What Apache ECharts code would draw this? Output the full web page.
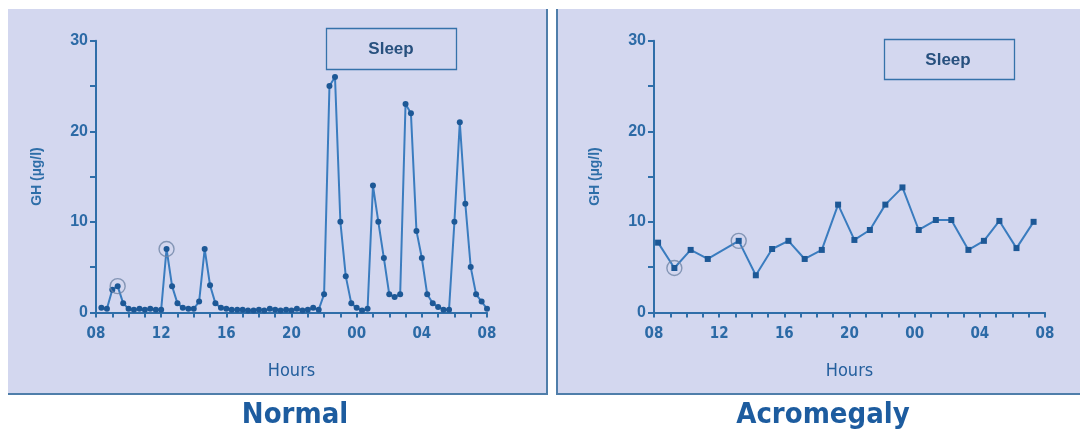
<!DOCTYPE html>
<html>
<head>
<meta charset="utf-8">
<script src="https://cdn.jsdelivr.net/npm/echarts@6/dist/echarts.min.js"></script>
<style>
html,body{margin:0;padding:0;background:#ffffff;}
#c{width:1086px;height:432px;}
</style>
</head>
<body>
<div id="c"></div>
<script>
// ---- data ----
const hourTickLabels = ['08', '12', '16', '20', '00', '04', '08'];
const yTickLabels = ['0', '10', '20', '30'];
const panelTitles = ['Normal', 'Acromegaly'];
const sleepLabel = 'Sleep';
const xName = 'Hours';
const yName = 'GH (µg/l)';

// Normal: hours after 08:00 (20-min sampling) and GH values
const normalHours = [0.33,0.67,1,1.33,1.67,2,2.33,2.67,3,3.33,3.67,4,4.33,4.67,5,5.33,5.67,6,
  6.33,6.67,7,7.33,7.67,8,8.33,8.67,9,9.33,9.67,10,10.33,10.67,11,11.33,11.67,12,
  12.33,12.67,13,13.33,13.67,14,14.33,14.67,15,15.33,15.67,16,16.33,16.67,17,17.33,17.67,18,
  18.33,18.67,19,19.33,19.67,20,20.33,20.67,21,21.33,21.67,22,22.33,22.67,23,23.33,23.67,24];
const normalGH = [0.5,0.4,2.5,2.9,1.0,0.4,0.3,0.4,0.3,0.4,0.3,0.3,7.0,2.9,1.0,0.5,0.4,0.4,
  1.2,7.0,3.0,1.0,0.5,0.4,0.3,0.3,0.3,0.2,0.2,0.3,0.2,0.4,0.3,0.2,0.3,0.2,
  0.4,0.2,0.3,0.5,0.3,2.0,25,26,10,4,1.0,0.5,0.2,0.4,14,10,6,2,
  1.7,2,23,22,9,6,2,1.0,0.6,0.3,0.3,10,21,12,5,2,1.2,0.4];
const normalCircledHours = [1.33, 4.33];
const normalCircledGH = [2.9, 7.0];

// Acromegaly
const acroHours = [0.25,1.25,2.25,3.3,5.2,6.25,7.25,8.25,9.25,10.3,11.3,12.3,13.25,14.2,15.25,16.25,17.3,18.25,19.3,20.25,21.2,22.25,23.3];
const acroGH = [7.7,4.9,6.9,5.9,7.9,4.1,7.0,7.9,5.9,6.9,11.9,8.0,9.1,11.9,13.8,9.1,10.2,10.2,6.9,7.9,10.1,7.1,10.0];
const acroCircledHours = [1.25, 5.2];
const acroCircledGH = [4.9, 7.9];

// ---- styling ----
const axisColor = '#2f6ea9';
const labelColor = '#2c6aa6';
const lineColor = '#3a7cbf';
const markColor = '#1d5896';
const narrow = "'Liberation Sans Narrow', 'DejaVu Sans Condensed', 'Liberation Sans', Arial, sans-serif";
const sans = "'Liberation Sans', Arial, sans-serif";

function pairs(xs, ys) { return xs.map((x, i) => [x, ys[i]]); }

function xAxisCfg(gi) {
  return {
    gridIndex: gi, type: 'value', min: 0, max: 24, interval: 1,
    name: xName, nameLocation: 'middle', nameGap: 50,
    nameTextStyle: {color: '#245f9d', fontSize: 18, fontFamily: narrow},
    axisLine: {show: true, lineStyle: {color: axisColor, width: 2}},
    axisTick: {show: true, length: 5, lineStyle: {color: axisColor, width: 2}},
    axisLabel: {
      color: labelColor, fontSize: 15, fontWeight: 'bold', fontFamily: narrow, margin: 14,
      formatter: v => (v % 4 === 0 ? hourTickLabels[v / 4] : '')
    },
    splitLine: {show: false}
  };
}
function yAxisCfg(gi) {
  return {
    gridIndex: gi, type: 'value', min: 0, max: 30, interval: 5,
    name: yName, nameLocation: 'middle', nameGap: 52, nameRotate: 90,
    nameTextStyle: {color: '#2e6ea8', fontSize: 14, fontWeight: 'bold', fontFamily: sans},
    axisLine: {show: true, lineStyle: {color: axisColor, width: 2}},
    axisTick: {show: true, length: 6, lineStyle: {color: axisColor, width: 2}},
    axisLabel: {
      color: labelColor, fontSize: 16, fontWeight: 'bold', fontFamily: sans, margin: 8,
      formatter: v => (v % 10 === 0 ? yTickLabels[v / 10] : '')
    },
    splitLine: {show: false}
  };
}
function lineSeries(gi, data, sym) {
  return {
    type: 'line', xAxisIndex: gi, yAxisIndex: gi, data: data,
    symbol: sym, symbolSize: 6, showSymbol: true,
    lineStyle: {color: lineColor, width: 2},
    itemStyle: {color: markColor, borderWidth: 0},
    z: 3, animation: false
  };
}
function circleSeries(gi, data) {
  return {
    type: 'scatter', xAxisIndex: gi, yAxisIndex: gi, data: data,
    symbol: 'circle', symbolSize: 15,
    itemStyle: {color: 'rgba(0,0,0,0)', borderColor: '#6f84a6', borderWidth: 1.4},
    z: 4, animation: false, silent: true
  };
}

const panelFill = '#d3d7ef';
const borderC = '#4f7eaa';

const chart = echarts.init(document.getElementById('c'), null, {renderer: 'canvas'});
chart.setOption({
  backgroundColor: '#ffffff',
  animation: false,
  grid: [
    {left: 96, top: 40.7, width: 391, height: 271.7},
    {left: 654, top: 40.7, width: 391, height: 271.7}
  ],
  xAxis: [xAxisCfg(0), xAxisCfg(1)],
  yAxis: [yAxisCfg(0), yAxisCfg(1)],
  title: [
    {text: panelTitles[0], left: 290, top: 396, textAlign: 'center',
     textStyle: {color: '#1d5c9f', fontSize: 29, fontWeight: 'bold', fontFamily: narrow}},
    {text: panelTitles[1], left: 818, top: 396, textAlign: 'center',
     textStyle: {color: '#1d5c9f', fontSize: 29, fontWeight: 'bold', fontFamily: narrow}}
  ],
  graphic: [
    {type: 'rect', z: -10, shape: {x: 8, y: 9, width: 540, height: 386}, style: {fill: panelFill}},
    {type: 'rect', z: -10, shape: {x: 556, y: 9, width: 524, height: 386}, style: {fill: panelFill}},
    {type: 'line', z: -9, shape: {x1: 547, y1: 9, x2: 547, y2: 395}, style: {stroke: borderC, lineWidth: 2}},
    {type: 'line', z: -9, shape: {x1: 8, y1: 394, x2: 548, y2: 394}, style: {stroke: borderC, lineWidth: 2}},
    {type: 'line', z: -9, shape: {x1: 557, y1: 9, x2: 557, y2: 395}, style: {stroke: borderC, lineWidth: 2}},
    {type: 'line', z: -9, shape: {x1: 556, y1: 394, x2: 1080, y2: 394}, style: {stroke: borderC, lineWidth: 2}},
    {type: 'rect', z: 5, shape: {x: 326.5, y: 28.5, width: 130, height: 41}, style: {fill: 'rgba(0,0,0,0)', stroke: '#3572aa', lineWidth: 1.3}},
    {type: 'text', z: 5, style: {x: 391, y: 49, text: sleepLabel, align: 'center', verticalAlign: 'middle',
      fill: '#27507e', font: "bold 17px 'Liberation Sans', Arial, sans-serif"}},
    {type: 'rect', z: 5, shape: {x: 884.5, y: 39.5, width: 130, height: 40}, style: {fill: 'rgba(0,0,0,0)', stroke: '#3572aa', lineWidth: 1.3}},
    {type: 'text', z: 5, style: {x: 948, y: 60, text: sleepLabel, align: 'center', verticalAlign: 'middle',
      fill: '#27507e', font: "bold 17px 'Liberation Sans', Arial, sans-serif"}}
  ],
  series: [
    lineSeries(0, pairs(normalHours, normalGH), 'circle'),
    circleSeries(0, pairs(normalCircledHours, normalCircledGH)),
    lineSeries(1, pairs(acroHours, acroGH), 'rect'),
    circleSeries(1, pairs(acroCircledHours, acroCircledGH))
  ]
});
</script>
</body>
</html>
